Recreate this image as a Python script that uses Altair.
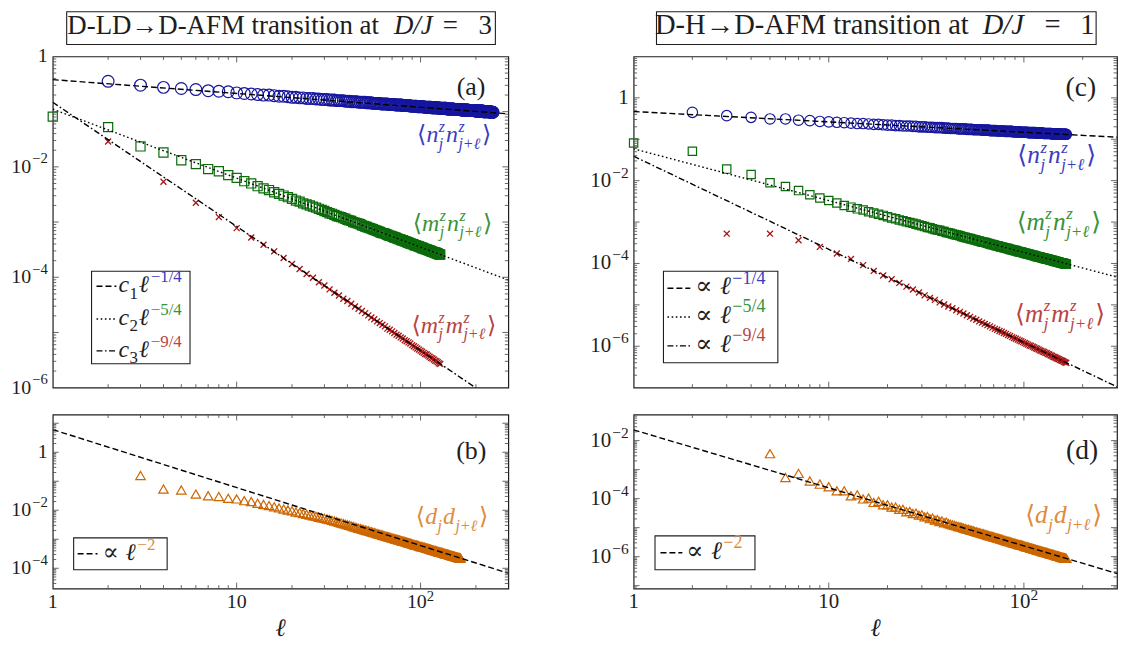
import math
import altair as alt
import pandas as pd

FONT = "Liberation Serif, DejaVu Serif, serif"
INK = "#1e1e1e"
TICK = "#555555"

BLUE, BLUE_T = "#16169e", "#3c3cc0"
GREEN, GREEN_T = "#0b6b0b", "#3a923a"
RED, RED_T = "#a81414", "#b84444"
ORANGE, ORANGE_T = "#cc6600", "#e08a3c"

# ---------------- data: log10 of the correlation functions vs distance ell ----------------
# (a) D-LD -> D-AFM at D/J = 3
nn_a_start = 2
nn_a = [
    -0.45, -0.52, -0.56, -0.58, -0.60, -0.62, -0.63, -0.64, -0.66,
    -0.67, -0.68, -0.69, -0.70, -0.70, -0.71, -0.72, -0.72, -0.73, -0.74,
    -0.74, -0.75, -0.75, -0.76, -0.76, -0.76, -0.77, -0.77, -0.78, -0.78,
    -0.78, -0.79, -0.79, -0.79, -0.80, -0.80, -0.80, -0.80, -0.81, -0.81,
    -0.81, -0.82, -0.82, -0.82, -0.82, -0.83, -0.83, -0.83, -0.83, -0.83,
    -0.84, -0.84, -0.84, -0.84, -0.85, -0.85, -0.85, -0.85, -0.85, -0.85,
    -0.86, -0.86, -0.86, -0.86, -0.86, -0.86, -0.87, -0.87, -0.87, -0.87,
    -0.87, -0.87, -0.88, -0.88, -0.88, -0.88, -0.88, -0.88, -0.88, -0.89,
    -0.89, -0.89, -0.89, -0.89, -0.89, -0.89, -0.89, -0.90, -0.90, -0.90,
    -0.90, -0.90, -0.90, -0.90, -0.90, -0.91, -0.91, -0.91, -0.91, -0.91,
    -0.91, -0.91, -0.91, -0.91, -0.92, -0.92, -0.92, -0.92, -0.92, -0.92,
    -0.92, -0.92, -0.92, -0.92, -0.93, -0.93, -0.93, -0.93, -0.93, -0.93,
    -0.93, -0.93, -0.93, -0.93, -0.93, -0.94, -0.94, -0.94, -0.94, -0.94,
    -0.94, -0.94, -0.94, -0.94, -0.94, -0.94, -0.94, -0.94, -0.95, -0.95,
    -0.95, -0.95, -0.95, -0.95, -0.95, -0.95, -0.95, -0.95, -0.95, -0.95,
    -0.95, -0.96, -0.96, -0.96, -0.96, -0.96, -0.96, -0.96, -0.96, -0.96,
    -0.96, -0.96, -0.96, -0.96, -0.96, -0.97, -0.97, -0.97, -0.97, -0.97,
    -0.97, -0.97, -0.97, -0.97, -0.97, -0.97, -0.97, -0.97, -0.97, -0.97,
    -0.97, -0.98, -0.98, -0.98, -0.98, -0.98, -0.98, -0.98, -0.98, -0.98,
    -0.98, -0.98, -0.98, -0.98, -0.98, -0.98, -0.98, -0.98, -0.98, -0.99,
    -0.99, -0.99, -0.99, -0.99, -0.99, -0.99, -0.99, -0.99, -0.99, -0.99,
    -0.99, -0.99, -0.99, -0.99, -0.99, -0.99, -0.99, -0.99, -1.00, -1.00,
    -1.00, -1.00, -1.00, -1.00, -1.00, -1.00, -1.00, -1.00, -1.00, -1.00,
    -1.00, -1.00, -1.00, -1.00, -1.00, -1.00, -1.00, -1.00, -1.00, -1.01,
    -1.01, -1.01, -1.01, -1.01, -1.01, -1.01, -1.01, -1.01,
]
mn_a_start = 1
mn_a = [
    -1.09, -1.28, -1.63, -1.74, -1.88, -1.95, -2.04, -2.08, -2.15, -2.20,
    -2.26, -2.30, -2.35, -2.39, -2.42, -2.46, -2.49, -2.52, -2.55, -2.58,
    -2.61, -2.63, -2.66, -2.68, -2.70, -2.72, -2.74, -2.76, -2.78, -2.80,
    -2.82, -2.84, -2.85, -2.87, -2.89, -2.90, -2.91, -2.93, -2.94, -2.96,
    -2.97, -2.98, -3.00, -3.01, -3.02, -3.03, -3.04, -3.06, -3.07, -3.08,
    -3.09, -3.10, -3.11, -3.12, -3.13, -3.14, -3.15, -3.16, -3.17, -3.18,
    -3.19, -3.20, -3.20, -3.21, -3.22, -3.23, -3.24, -3.25, -3.25, -3.26,
    -3.27, -3.28, -3.28, -3.29, -3.30, -3.31, -3.31, -3.32, -3.33, -3.33,
    -3.34, -3.35, -3.35, -3.36, -3.37, -3.37, -3.38, -3.39, -3.39, -3.40,
    -3.40, -3.41, -3.42, -3.42, -3.43, -3.43, -3.44, -3.44, -3.45, -3.46,
    -3.46, -3.47, -3.47, -3.48, -3.48, -3.49, -3.49, -3.50, -3.50, -3.51,
    -3.51, -3.52, -3.52, -3.53, -3.53, -3.54, -3.54, -3.55, -3.55, -3.55,
    -3.56, -3.56, -3.57, -3.57, -3.58, -3.58, -3.59, -3.59,
]
mm_a_start = 2   # even distances only
mm_a = [
    -1.54, -2.27, -2.65, -2.91, -3.11, -3.28, -3.41, -3.53, -3.65, -3.76,
    -3.85, -3.94, -4.01, -4.09, -4.15, -4.22, -4.28, -4.33, -4.39, -4.43,
    -4.48, -4.53, -4.57, -4.61, -4.65, -4.69, -4.73, -4.76, -4.80, -4.83,
    -4.86, -4.89, -4.93, -4.95, -4.98, -5.01, -5.04, -5.06, -5.09, -5.11,
    -5.14, -5.16, -5.18, -5.20, -5.23, -5.25, -5.27, -5.29, -5.31, -5.33,
    -5.35, -5.37, -5.39, -5.40, -5.42, -5.44, -5.46, -5.47, -5.49, -5.51,
    -5.52, -5.54, -5.56, -5.57,
]
# (b) dimer correlation, D/J = 3
dd_b_start = 3
dd_b = [
    -0.80, -1.27, -1.30, -1.44, -1.50, -1.53, -1.59, -1.61,
    -1.67, -1.70, -1.76, -1.80, -1.84, -1.88, -1.92, -1.96, -1.99, -2.02,
    -2.06, -2.08, -2.11, -2.14, -2.17, -2.19, -2.21, -2.24, -2.26, -2.28,
    -2.30, -2.32, -2.35, -2.37, -2.39, -2.42, -2.44, -2.46, -2.48, -2.50,
    -2.52, -2.54, -2.56, -2.58, -2.60, -2.62, -2.63, -2.65, -2.67, -2.68,
    -2.70, -2.71, -2.73, -2.74, -2.76, -2.77, -2.79, -2.80, -2.82, -2.83,
    -2.84, -2.86, -2.87, -2.88, -2.90, -2.91, -2.92, -2.93, -2.94, -2.96,
    -2.97, -2.98, -2.99, -3.00, -3.01, -3.02, -3.03, -3.04, -3.06, -3.06,
    -3.07, -3.08, -3.09, -3.10, -3.11, -3.12, -3.13, -3.14, -3.15, -3.16,
    -3.17, -3.18, -3.19, -3.20, -3.20, -3.21, -3.22, -3.23, -3.24, -3.25,
    -3.25, -3.26, -3.27, -3.28, -3.28, -3.29, -3.30, -3.31, -3.31, -3.32,
    -3.33, -3.34, -3.34, -3.35, -3.36, -3.37, -3.37, -3.38, -3.39, -3.39,
    -3.40, -3.41, -3.41, -3.42, -3.43, -3.43, -3.44, -3.45, -3.45, -3.46,
    -3.46, -3.47, -3.48, -3.48, -3.49, -3.50, -3.50, -3.51, -3.51, -3.52,
    -3.52, -3.53, -3.54, -3.54, -3.55, -3.55, -3.56, -3.56, -3.57, -3.58,
    -3.58, -3.59, -3.59, -3.60, -3.60, -3.61, -3.61, -3.62, -3.62, -3.63,
    -3.63, -3.64, -3.64, -3.65, -3.65,
]
# (c) D-H -> D-AFM at D/J = 1
nn_c_start = 2
nn_c = [
    -0.35, -0.43, -0.47, -0.51, -0.51, -0.54, -0.55, -0.57, -0.58,
    -0.59, -0.60, -0.61, -0.62, -0.62, -0.63, -0.64, -0.64, -0.65, -0.66,
    -0.66, -0.67, -0.67, -0.68, -0.68, -0.68, -0.69, -0.69, -0.70, -0.70,
    -0.70, -0.71, -0.71, -0.71, -0.72, -0.72, -0.72, -0.72, -0.73, -0.73,
    -0.73, -0.74, -0.74, -0.74, -0.74, -0.75, -0.75, -0.75, -0.75, -0.75,
    -0.76, -0.76, -0.76, -0.76, -0.77, -0.77, -0.77, -0.77, -0.77, -0.77,
    -0.78, -0.78, -0.78, -0.78, -0.78, -0.78, -0.79, -0.79, -0.79, -0.79,
    -0.79, -0.79, -0.80, -0.80, -0.80, -0.80, -0.80, -0.80, -0.80, -0.81,
    -0.81, -0.81, -0.81, -0.81, -0.81, -0.81, -0.81, -0.82, -0.82, -0.82,
    -0.82, -0.82, -0.82, -0.82, -0.82, -0.83, -0.83, -0.83, -0.83, -0.83,
    -0.83, -0.83, -0.83, -0.83, -0.84, -0.84, -0.84, -0.84, -0.84, -0.84,
    -0.84, -0.84, -0.84, -0.84, -0.85, -0.85, -0.85, -0.85, -0.85, -0.85,
    -0.85, -0.85, -0.85, -0.85, -0.85, -0.86, -0.86, -0.86, -0.86, -0.86,
    -0.86, -0.86, -0.86, -0.86, -0.86, -0.86, -0.86, -0.86, -0.87, -0.87,
    -0.87, -0.87, -0.87, -0.87, -0.87, -0.87, -0.87, -0.87, -0.87, -0.87,
    -0.87, -0.88, -0.88, -0.88, -0.88, -0.88, -0.88, -0.88, -0.88, -0.88,
    -0.88, -0.88, -0.88, -0.88, -0.88,
]
mn_c_start = 1
mn_c = [
    -1.09, -1.29, -1.72, -1.85, -2.05, -2.14, -2.24, -2.34, -2.42, -2.48,
    -2.54, -2.60, -2.64, -2.68, -2.71, -2.75, -2.78, -2.81, -2.84, -2.87,
    -2.90, -2.92, -2.95, -2.97, -2.99, -3.01, -3.03, -3.05, -3.07, -3.09,
    -3.11, -3.13, -3.14, -3.16, -3.18, -3.19, -3.20, -3.22, -3.23, -3.25,
    -3.26, -3.27, -3.29, -3.30, -3.31, -3.32, -3.33, -3.35, -3.36, -3.37,
    -3.38, -3.39, -3.40, -3.41, -3.42, -3.43, -3.44, -3.45, -3.46, -3.47,
    -3.48, -3.49, -3.49, -3.50, -3.51, -3.52, -3.53, -3.54, -3.54, -3.55,
    -3.56, -3.57, -3.57, -3.58, -3.59, -3.60, -3.60, -3.61, -3.62, -3.62,
    -3.63, -3.64, -3.64, -3.65, -3.66, -3.66, -3.67, -3.68, -3.68, -3.69,
    -3.69, -3.70, -3.71, -3.71, -3.72, -3.72, -3.73, -3.73, -3.74, -3.75,
    -3.75, -3.76, -3.76, -3.77, -3.77, -3.78, -3.78, -3.79, -3.79, -3.80,
    -3.80, -3.81, -3.81, -3.82, -3.82, -3.83, -3.83, -3.84, -3.84, -3.84,
    -3.85, -3.85, -3.86, -3.86, -3.87, -3.87, -3.88, -3.88, -3.88, -3.89,
    -3.89, -3.90, -3.90, -3.90, -3.91, -3.91, -3.92, -3.92, -3.92, -3.93,
    -3.93, -3.94, -3.94, -3.94, -3.95, -3.95, -3.95, -3.96, -3.96, -3.97,
    -3.97, -3.97, -3.98, -3.98, -3.98, -3.99, -3.99, -3.99, -4.00, -4.00,
    -4.00, -4.01, -4.01, -4.01, -4.02,
]
mm_c_start = 3   # odd distances only
mm_c = [
    -3.28, -3.28, -3.44, -3.60, -3.76, -3.89, -4.04, -4.18, -4.29, -4.38,
    -4.47, -4.56, -4.63, -4.70, -4.77, -4.83, -4.88, -4.94, -4.99, -5.04,
    -5.08, -5.13, -5.17, -5.21, -5.25, -5.29, -5.33, -5.36, -5.40, -5.43,
    -5.46, -5.49, -5.52, -5.55, -5.58, -5.60, -5.63, -5.65, -5.68, -5.70,
    -5.73, -5.75, -5.78, -5.80, -5.82, -5.84, -5.86, -5.88, -5.90, -5.92,
    -5.94, -5.96, -5.98, -5.99, -6.01, -6.03, -6.05, -6.06, -6.08, -6.10,
    -6.11, -6.13, -6.14, -6.16, -6.17, -6.19, -6.20, -6.22, -6.23, -6.25,
    -6.26, -6.27, -6.29, -6.30, -6.31, -6.33, -6.34, -6.35, -6.36, -6.38,
    -6.39, -6.40,
]
# (d) dimer correlation, D/J = 1
dd_d_start = 5
dd_d = [
    -2.45, -3.27, -3.13, -3.39, -3.50, -3.59,
    -3.73, -3.73, -3.90, -3.87, -4.01, -3.98, -4.13, -4.09, -4.21, -4.21,
    -4.29, -4.29, -4.37, -4.37, -4.45, -4.44, -4.51, -4.50, -4.57, -4.56,
    -4.63, -4.62, -4.69, -4.67, -4.74, -4.72, -4.79, -4.77, -4.83, -4.81,
    -4.86, -4.88, -4.90, -4.92, -4.94, -4.96, -4.97, -4.99, -5.01, -5.03,
    -5.05, -5.06, -5.08, -5.09, -5.11, -5.13, -5.14, -5.16, -5.17, -5.19,
    -5.20, -5.21, -5.23, -5.24, -5.26, -5.27, -5.28, -5.30, -5.31, -5.32,
    -5.33, -5.34, -5.36, -5.37, -5.38, -5.39, -5.40, -5.41, -5.43, -5.44,
    -5.45, -5.46, -5.47, -5.48, -5.49, -5.50, -5.51, -5.52, -5.53, -5.54,
    -5.55, -5.56, -5.57, -5.58, -5.59, -5.59, -5.60, -5.61, -5.62, -5.63,
    -5.64, -5.65, -5.66, -5.66, -5.67, -5.68, -5.69, -5.70, -5.70, -5.71,
    -5.72, -5.73, -5.74, -5.74, -5.75, -5.76, -5.77, -5.77, -5.78, -5.79,
    -5.80, -5.80, -5.81, -5.82, -5.82, -5.83, -5.84, -5.84, -5.85, -5.86,
    -5.86, -5.87, -5.88, -5.88, -5.89, -5.90, -5.90, -5.91, -5.92, -5.92,
    -5.93, -5.93, -5.94, -5.95, -5.95, -5.96, -5.96, -5.97, -5.98, -5.98,
    -5.99, -5.99, -6.00, -6.01, -6.01, -6.02, -6.02, -6.03, -6.03, -6.04,
    -6.04, -6.05, -6.05, -6.06, -6.06,
]

# power-law guides: log10 value at ell = 1 and at ell = 300
fit_ell = [1, 300]
fit_nn_a = [-0.42, -1.04]
fit_mn_a = [-0.955, -4.05]
fit_mm_a = [-0.83, -6.40]
fit_dd_b = [0.78, -4.17]
fit_nn_c = [-0.33, -0.95]
fit_mn_c = [-1.23, -4.33]
fit_mm_c = [-1.41, -6.98]
fit_dd_d = [-1.63, -6.58]

# axes: tick positions and tick labels (mantissa text, exponent text)
X_DOMAIN = [1, 300]
X_MAJOR = [10, 100]
X_MINOR = [2, 3, 4, 5, 6, 7, 8, 9, 20, 30, 40, 50, 60, 70, 80, 90, 200]
X_LABELS = [(1, "1", ""), (10, "10", ""), (100, "10", "2")]
Y_LABELS_AC = [(0, "1", ""), (-2, "10", "−2"), (-4, "10", "−4"), (-6, "10", "−6")]
Y_LABELS_B = [(0, "1", ""), (-2, "10", "−2"), (-4, "10", "−4")]
Y_LABELS_D = [(-2, "10", "−2"), (-4, "10", "−4"), (-6, "10", "−6")]
X_TITLE = "ℓ"

DASHED = [6, 3]
DOTTED = [1.6, 2.6]
DASHDOT = [6, 2.5, 1.6, 2.5]

ONE = pd.DataFrame({"k": [0]})

CW = {"⟨": .39, "⟩": .39, "n": .5, "m": .722, "d": .5, "j": .278, "z": .389,
      "+": .675, "ℓ": .47, "c": .444, "−": .564, "/": .278, "∝": .72, " ": .25}


def tw(s, size):
    return size * sum(CW.get(ch, .5) for ch in s)


def series_df(start, vals, step=1):
    return pd.DataFrame({"l": [start + step * i for i in range(len(vals))],
                         "v": [10 ** v for v in vals]})


def frag(s, x, y, size, color=INK, italic=False, align="left"):
    return alt.Chart(ONE).mark_text(
        text=s, font=FONT, fontSize=size, fontStyle="italic" if italic else "normal",
        color=color, align=align, baseline="alphabetic"
    ).encode(x=alt.value(x), y=alt.value(y))


def is_it(s):
    return any(ch.isalpha() for ch in s)


def math_text(atoms, x, yb, S, s, color, align="left"):
    pieces, cur = [], 0.0
    for atom in atoms:
        base, sup, sub, supc = (list(atom) + [None] * 4)[:4]
        wb = tw(base, S) if base else 0
        ws = max(tw(sup or "", s), tw(sub or "", s))
        pieces.append((cur, base, sup, sub, supc, wb))
        cur += wb + (ws + 1.5 if ws else 0)
    x0 = x - cur if align == "right" else x
    out = []
    for off, base, sup, sub, supc, wb in pieces:
        if base:
            out.append(frag(base, x0 + off, yb, S, color, is_it(base)))
        if sup:
            out.append(frag(sup, x0 + off + wb + 0.5, yb - 0.42 * S, s, supc or color, is_it(sup)))
        if sub:
            out.append(frag(sub, x0 + off + wb + 0.5, yb + 0.27 * S, s, color, is_it(sub)))
    return out


def y_ticks(lo, hi):
    majors = [10.0 ** e for e in range(math.ceil(lo), math.floor(hi) + 1) if lo < e < hi]
    minors = []
    for e in range(math.floor(lo), math.ceil(hi) + 1):
        for m in range(2, 10):
            v = m * 10.0 ** e
            if lo + 1e-9 < math.log10(v) < hi - 1e-9:
                minors.append(v)
    return majors, minors


def box(x1, x2, y1, y2):
    return alt.Chart(ONE).mark_rect(fill="white", stroke=INK, strokeWidth=1.1).encode(
        x=alt.value(x1), x2=alt.value(x2), y=alt.value(y1), y2=alt.value(y2))


def sample(x1, x2, y, dash):
    return alt.Chart(ONE).mark_rule(color="black", strokeWidth=1.4, strokeDash=dash).encode(
        x=alt.value(x1), x2=alt.value(x2), y=alt.value(y))


def panel(W, H, lo, hi, ylabels, show_x, series, fits, extras, lab=20):
    xs = alt.Scale(type="log", domain=X_DOMAIN, nice=False)
    ys = alt.Scale(type="log", domain=[10 ** lo, 10 ** hi], nice=False)

    def X(field):
        return alt.X(field, scale=xs, axis=None)

    def Y(field):
        return alt.Y(field, scale=ys, axis=None)

    layers = []
    for df, shape, color, size, sw in series:
        layers.append(alt.Chart(df).mark_point(
            shape=shape, filled=False, size=size, color=color, strokeWidth=sw, opacity=1
        ).encode(x=X("l:Q"), y=Y("v:Q")))
    for vals, dash in fits:
        d = pd.DataFrame({"l": fit_ell, "v": [10 ** v for v in vals]})
        layers.append(alt.Chart(d).mark_line(color="black", strokeWidth=1.4, strokeDash=dash, clip=True)
                      .encode(x=X("l:Q"), y=Y("v:Q")))
    # inward ticks on all four sides
    for vals, L in ((X_MAJOR, 6), (X_MINOR, 3.5)):
        base = alt.Chart(pd.DataFrame({"l": vals})).mark_rule(color=TICK, strokeWidth=0.9)
        layers.append(base.encode(x=X("l:Q"), y=alt.value(H), y2=alt.value(H - L)))
        layers.append(base.encode(x=X("l:Q"), y=alt.value(0), y2=alt.value(L)))
    ymaj, ymin = y_ticks(lo, hi)
    for vals, L in ((ymaj, 6), (ymin, 3.5)):
        base = alt.Chart(pd.DataFrame({"v": vals})).mark_rule(color=TICK, strokeWidth=0.9)
        layers.append(base.encode(y=Y("v:Q"), x=alt.value(0), x2=alt.value(L)))
        layers.append(base.encode(y=Y("v:Q"), x=alt.value(W), x2=alt.value(W - L)))
    # tick labels (mantissa + raised exponent) placed through the scales
    sup_size = lab * 0.74
    for e, mant, expo in ylabels:
        d = pd.DataFrame({"v": [10.0 ** e]})
        wexp = tw(expo, sup_size)
        layers.append(alt.Chart(d).mark_text(
            text=mant, font=FONT, fontSize=lab, color=INK, align="right", baseline="middle",
            dx=-(wexp + (1 if expo else 0))).encode(y=Y("v:Q"), x=alt.value(-5)))
        if expo:
            layers.append(alt.Chart(d).mark_text(
                text=expo, font=FONT, fontSize=sup_size, color=INK, align="left", baseline="middle",
                dx=-wexp, dy=-0.38 * lab).encode(y=Y("v:Q"), x=alt.value(-5)))
    if show_x:
        for val, mant, expo in X_LABELS:
            d = pd.DataFrame({"l": [val]})
            wm, we = tw(mant, lab), tw(expo, sup_size)
            left = -(wm + we) / 2
            layers.append(alt.Chart(d).mark_text(
                text=mant, font=FONT, fontSize=lab, color=INK, align="left", baseline="alphabetic",
                dx=left).encode(x=X("l:Q"), y=alt.value(H + 20)))
            if expo:
                layers.append(alt.Chart(d).mark_text(
                    text=expo, font=FONT, fontSize=sup_size, color=INK, align="left",
                    baseline="alphabetic", dx=left + wm, dy=-0.4 * lab
                ).encode(x=X("l:Q"), y=alt.value(H + 20)))
        layers.append(frag(X_TITLE, W / 2, H + 48, 25, INK, italic=True, align="center"))
    layers.extend(extras)
    return alt.layer(*layers).properties(width=W, height=H)


CIRCLE, SQUARE, TRI = "circle", "square", "triangle-up"
XMARK = "M-1,-1L1,1M-1,1L1,-1"

NN = [("⟨",), ("n", "z", "j"), ("n", "z", "j+ℓ"), ("⟩",)]
MN = [("⟨",), ("m", "z", "j"), ("n", "z", "j+ℓ"), ("⟩",)]
MM = [("⟨",), ("m", "z", "j"), ("m", "z", "j+ℓ"), ("⟩",)]
DD = [("⟨",), ("d", None, "j"), ("d", None, "j+ℓ"), ("⟩",)]

WL, WR, HT, HB = 458, 486, 333, 175
K = 1.063   # the right-hand column is drawn about 6 % larger

# ---------------- panel (a) ----------------
extras_a = [
    box(14, 445, -45, -12),
    frag("D-LD→D-AFM transition at", 328, -23, 27, align="right"),
    frag("D/J", 343, -23, 27, italic=True),
    frag("=", 392, -23, 27),
    frag("3", 428, -23, 27),
    frag("(a)", 435, 38.5, 26, align="right"),
    *math_text(NN, 441, 86.5, 24, 16, BLUE_T, "right"),
    *math_text(MN, 442, 175.5, 24, 16, GREEN_T, "right"),
    *math_text(MM, 446, 278, 24, 16, RED_T, "right"),
    box(39, 138, 216, 309),
    sample(44, 64, 231, DASHED), sample(44, 64, 264, DOTTED), sample(44, 64, 296, DASHDOT),
    *math_text([("c", None, "1"), ("ℓ", "−1/4", None, BLUE_T)], 66, 237, 24, 17, INK),
    *math_text([("c", None, "2"), ("ℓ", "−5/4", None, GREEN_T)], 66, 270, 24, 17, INK),
    *math_text([("c", None, "3"), ("ℓ", "−9/4", None, RED_T)], 66, 302, 24, 17, INK),
]
pa = panel(WL, HT, -6, 0, Y_LABELS_AC, False,
           [(series_df(nn_a_start, nn_a), CIRCLE, BLUE, 140, 1.2),
            (series_df(mn_a_start, mn_a), SQUARE, GREEN, 84, 1.2),
            (series_df(mm_a_start, mm_a, 2), XMARK, RED, 36, 1.3)],
           [(fit_nn_a, DASHED), (fit_mn_a, DOTTED), (fit_mm_a, DASHDOT)], extras_a)

# ---------------- panel (b) ----------------
extras_b = [
    frag("(b)", 436, 45, 26, align="right"),
    *math_text(DD, 438, 110.5, 24, 16, ORANGE_T, "right"),
    box(21, 115, 124, 156),
    sample(25, 45, 140, DASHED),
    *math_text([("∝ ",), ("ℓ", "−2", None, ORANGE_T)], 50, 146, 24, 17, INK),
]
pb = panel(WL, HB, -4.7, 1.3, Y_LABELS_B, True,
           [(series_df(dd_b_start, dd_b), TRI, ORANGE, 90, 1.2)],
           [(fit_dd_b, DASHED)], extras_b)

# ---------------- panel (c) ----------------
extras_c = [
    box(23, 465, -45, -12),
    frag("D-H→D-AFM transition at", 337, -23, 27 * K, align="right"),
    frag("D/J", 351, -23, 27 * K, italic=True),
    frag("=", 413, -23, 27 * K),
    frag("1", 449, -23, 27 * K),
    frag("(c)", 465, 39.5, 26 * K, align="right"),
    *math_text(NN, 465, 107.5, 24 * K, 16 * K, BLUE_T, "right"),
    *math_text(MN, 470, 174.5, 24 * K, 16 * K, GREEN_T, "right"),
    *math_text(MM, 474, 267, 24 * K, 16 * K, RED_T, "right"),
    box(30, 145, 216, 308),
    sample(34, 57, 233, DASHED), sample(34, 57, 262, DOTTED), sample(34, 57, 291, DASHDOT),
    *math_text([("∝ ",), ("ℓ", "−1/4", None, BLUE_T)], 62, 239, 24 * K, 17 * K, INK),
    *math_text([("∝ ",), ("ℓ", "−5/4", None, GREEN_T)], 62, 268, 24 * K, 17 * K, INK),
    *math_text([("∝ ",), ("ℓ", "−9/4", None, RED_T)], 62, 297, 24 * K, 17 * K, INK),
]
pc = panel(WR, HT, -7, 1, Y_LABELS_AC, False,
           [(series_df(nn_c_start, nn_c), CIRCLE, BLUE, 110, 1.2),
            (series_df(mn_c_start, mn_c), SQUARE, GREEN, 70, 1.2),
            (series_df(mm_c_start, mm_c, 2), XMARK, RED, 36, 1.3)],
           [(fit_nn_c, DASHED), (fit_mn_c, DOTTED), (fit_mm_c, DASHDOT)], extras_c, lab=21)

# ---------------- panel (d) ----------------
extras_d = [
    frag("(d)", 467, 44.5, 26 * K, align="right"),
    *math_text(DD, 471, 109.5, 24 * K, 16 * K, ORANGE_T, "right"),
    box(21.5, 122, 122, 156),
    sample(27, 49, 139, DASHED),
    *math_text([("∝ ",), ("ℓ", "−2", None, ORANGE_T)], 53, 145, 24 * K, 17 * K, INK),
]
pdd = panel(WR, HB, -7.1, -1.1, Y_LABELS_D, True,
            [(series_df(dd_d_start, dd_d), TRI, ORANGE, 90, 1.2)],
            [(fit_dd_d, DASHED)], extras_d, lab=21)

chart = alt.concat(
    pa, pc, pb, pdd, columns=2, bounds="flush",
    spacing={"row": 27, "column": 126}
).properties(
    padding={"left": 2, "top": 0, "right": 0, "bottom": 0}
).configure_view(stroke=INK, strokeWidth=1.2)

chart.save("out.html", embed_options={"renderer": "svg", "actions": False})
